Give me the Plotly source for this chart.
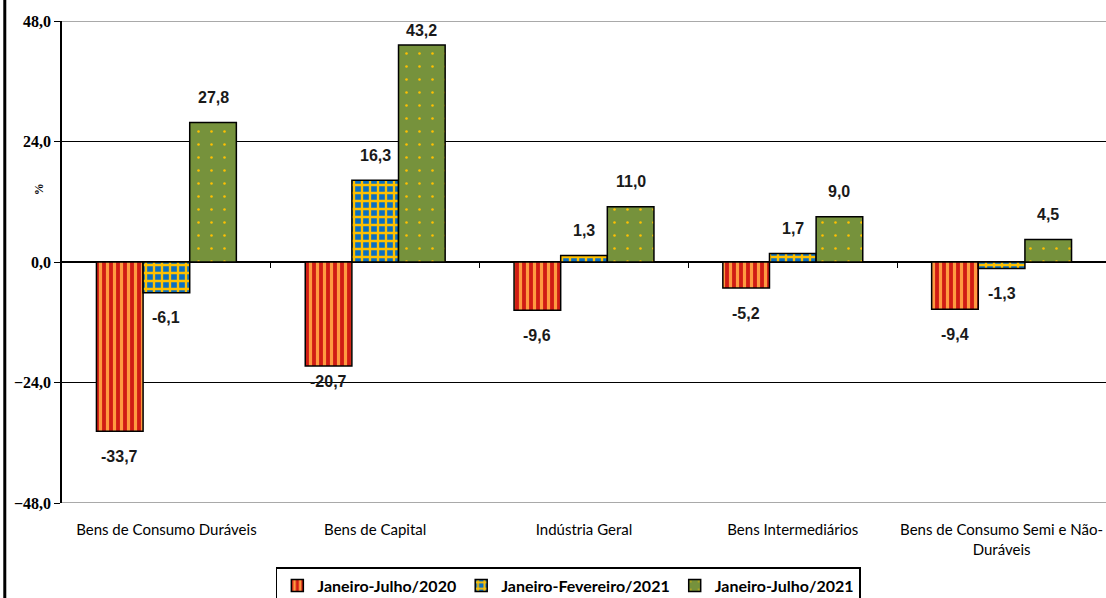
import plotly.graph_objects as go

# Categories and series values (%)
categories = ['Bens de Consumo Duráveis', 'Bens de Capital', 'Indústria Geral',
              'Bens Intermediários', 'Bens de Consumo Semi e Não-<br>Duráveis']
series_names = ['Janeiro-Julho/2020', 'Janeiro-Fevereiro/2021', 'Janeiro-Julho/2021']
jan_jul_2020 = [-33.7, -20.7, -9.6, -5.2, -9.4]
jan_fev_2021 = [-6.1, 16.3, 1.3, 1.7, -1.3]
jan_jul_2021 = [27.8, 43.2, 11.0, 9.0, 4.5]
y_ticks = [-48, -24, 0, 24, 48]

W, H = 1106, 598
margin = dict(l=62, r=0, t=21, b=95, autoexpand=False)
bargap = 0.33

# bar styles: (fill, pattern shape, pattern colour, size, solidity)
styles = [
    ('#d01c14', '|', '#ff9a40', 7, 0.45),
    ('#0a6fc2', '+', '#ffc000', 8, 0.5),
    ('#76923c', '.', '#ffc000', 13, 0.03),
]

serif = 'Liberation Serif'
label_font = 'Liberation Sans'
text_font = 'Lato'

fmt = lambda v: f'{v:.1f}'.replace('.', ',')

fig = go.Figure()
all_series = [jan_jul_2020, jan_fev_2021, jan_jul_2021]
for name, vals, (col, shape, fg, size, sol) in zip(series_names, all_series, styles):
    fig.add_trace(go.Bar(
        x=categories, y=vals, name=name,
        marker=dict(color=col, line=dict(color='black', width=1.5),
                    pattern=dict(shape=shape, fgcolor=fg, bgcolor=col,
                                 size=size, solidity=sol, fillmode='replace')),
        hoverinfo='x+y'
    ))

# value labels, shifted away from bar ends
plot_w = W - margin['l'] - margin['r']
bar_px = plot_w / len(categories) * (1 - bargap) / 3
nudge = {(0, 1): 9, (2, 1): 10}  # labels pushed closer to bar ends
for s, vals in enumerate(all_series):
    for c, v in enumerate(vals):
        shift = 25 - nudge.get((s, c), 0)
        fig.add_annotation(
            x=categories[c], y=v, xref='x', yref='y',
            text=fmt(v), showarrow=False,
            xshift=(s - 1) * bar_px,
            yshift=shift if v >= 0 else -shift,
            font=dict(family=label_font, size=16, color='#1a1a1a', weight='bold'))

# y axis title
fig.add_annotation(x=-0.031, y=0.65, xref='paper', yref='paper', text='%',
                   textangle=-90, showarrow=False,
                   font=dict(family=serif, size=12, color='black', weight='bold'))

# outer gridlines are grey in the original
for yv in (y_ticks[0], y_ticks[-1]):
    fig.add_hline(y=yv, line=dict(color='#8c8c8c', width=1.5))

# left page border
fig.add_shape(type='line', xref='paper', yref='paper', x0=-0.0548, x1=-0.0548,
              y0=-0.3, y1=1.1, line=dict(color='black', width=3))

fig.update_layout(
    width=W, height=H, margin=margin,
    barmode='group', bargap=bargap, bargroupgap=0,
    plot_bgcolor='white', paper_bgcolor='white',
    separators=',.',
    showlegend=True,
    legend=dict(orientation='h', x=0.485, xanchor='center', y=-0.133, yanchor='top',
                bordercolor='black', borderwidth=1.5,
                font=dict(family=text_font, size=16, color='black', weight='bold'),
                itemwidth=30),
    xaxis=dict(showline=False, ticks='', showgrid=False,
               tickfont=dict(family=text_font, size=15, color='black'),
               ticklabelstandoff=16, range=[-0.5, len(categories) - 0.5]),
    xaxis2=dict(overlaying='x', anchor='free', position=0.5,
                range=[-0.5, len(categories) - 0.5],
                tickvals=[i + 0.5 for i in range(len(categories) - 1)],
                ticks='outside', ticklen=5, tickcolor='black', tickwidth=1,
                showticklabels=False, showline=False, showgrid=False, zeroline=False),
    yaxis=dict(range=[-48, 48], tickvals=y_ticks, tickformat='.1f',
               showline=True, linecolor='black', linewidth=1.5,
               ticks='outside', ticklen=6, tickcolor='black',
               showgrid=True, gridcolor='black', gridwidth=1,
               zeroline=True, zerolinecolor='black', zerolinewidth=1.5,
               tickfont=dict(family=serif, size=16, color='black', weight='bold')),
)

# dummy trace so the overlay axis is drawn
fig.add_trace(go.Scatter(x=[None], y=[None], xaxis='x2', showlegend=False,
                         hoverinfo='skip'))

# page body margin would shift the figure, drop it
fig.write_html('out.html', config={'displayModeBar': False},
               post_script="document.body.style.margin='0';")
